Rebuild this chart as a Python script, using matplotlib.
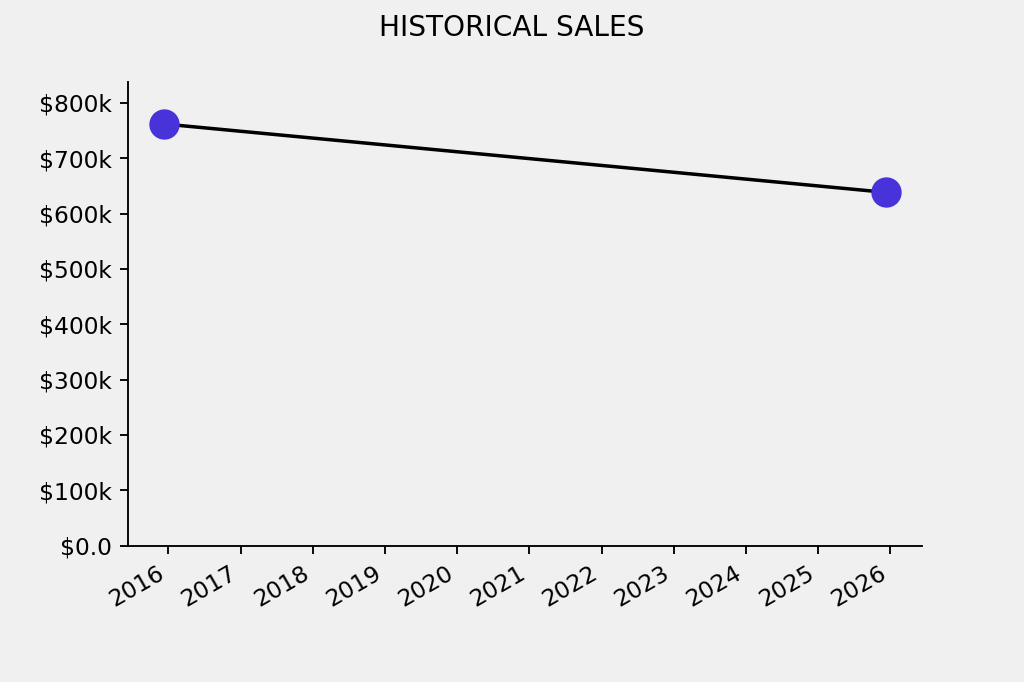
import datetime as dt
import matplotlib
matplotlib.use("Agg")
import matplotlib.pyplot as plt
from matplotlib.ticker import FuncFormatter
import matplotlib.dates as mdates

# sales data
dates = [dt.date(2015, 12, 10), dt.date(2025, 12, 8)]
sales = [762000, 638500]

bg = '#f0f0f0'
dpi = 168

fig, ax = plt.subplots(figsize=(1024 / dpi, 682 / dpi), dpi=dpi)
fig.patch.set_facecolor(bg)
ax.set_facecolor(bg)

ax.plot(dates, sales, color='black', linewidth=1.5, zorder=2)
ax.plot(dates, sales, linestyle='none', marker='o', markersize=12,
        color='#4833DB', zorder=3)

ax.set_ylim(0, max(sales) * 1.1)


def money(x, pos):
    if x == 0:
        return '$0.0'
    return f'${x / 1000:.0f}k'


ax.yaxis.set_major_formatter(FuncFormatter(money))
ax.xaxis.set_major_locator(mdates.YearLocator())
ax.xaxis.set_major_formatter(mdates.DateFormatter('%Y'))

ax.spines['top'].set_visible(False)
ax.spines['right'].set_visible(False)

fig.suptitle('HISTORICAL SALES')
fig.autofmt_xdate()

fig.savefig('out.png', dpi=dpi, facecolor=bg)
